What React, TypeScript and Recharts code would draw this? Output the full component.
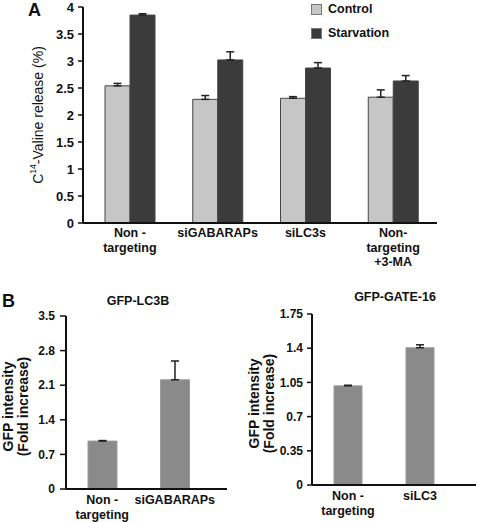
import { BarChart, Bar, XAxis, YAxis, ErrorBar, Legend, Label } from 'recharts';

// Panel A: C14-valine release
const categoriesA = ['Non -\ntargeting', 'siGABARAPs', 'siLC3s', 'Non-\ntargeting\n+3-MA'];
const controlValues = [2.54, 2.29, 2.31, 2.33];
const controlErrors = [0.045, 0.07, 0.03, 0.135];
const starvationValues = [3.85, 3.02, 2.87, 2.63];
const starvationErrors = [0.025, 0.15, 0.1, 0.1];
const ticksA = [0, 0.5, 1, 1.5, 2, 2.5, 3, 3.5, 4];

// Panel B left: GFP-LC3B
const categoriesLC3B = ['Non -\ntargeting', 'siGABARAPs'];
const lc3bValues = [0.97, 2.21];
const lc3bErrors = [0.01, 0.38];
const ticksLC3B = [0, 0.7, 1.4, 2.1, 2.8, 3.5];

// Panel B right: GFP-GATE-16
const categoriesGATE = ['Non -\ntargeting', 'siLC3'];
const gateValues = [1.015, 1.405];
const gateErrors = [0.006, 0.03];
const ticksGATE = [0, 0.35, 0.7, 1.05, 1.4, 1.75];

const FONT = '"Liberation Sans", Arial, Helvetica, sans-serif';
const INK = '#111';

const dataA = categoriesA.map((name, i) => ({
  name,
  control: controlValues[i],
  controlErr: [0, controlErrors[i]],
  starvation: starvationValues[i],
  starvationErr: [0, starvationErrors[i]],
}));

const dataLC3B = categoriesLC3B.map((name, i) => ({
  name,
  value: lc3bValues[i],
  err: [0, lc3bErrors[i]],
}));

const dataGATE = categoriesGATE.map((name, i) => ({
  name,
  value: gateValues[i],
  err: [0, gateErrors[i]],
}));

// multi-line category labels under the x axis
const makeTick = (firstLine: number) => (props: any) => {
  const { x, y, payload } = props;
  const lines = String(payload.value).split('\n');
  return (
    <text x={x} y={y} textAnchor="middle" fontFamily={FONT} fontSize={12.5} fontWeight="bold" fill={INK}>
      {lines.map((line, i) => (
        <tspan key={i} x={x} dy={i === 0 ? firstLine : 14.5} fill={INK}>
          {line}
        </tspan>
      ))}
    </text>
  );
};

const ValineLabel = (props: any) => {
  const { viewBox } = props;
  const cx = viewBox.x + viewBox.width - 45;
  const cy = viewBox.y + viewBox.height / 2;
  return (
    <text
      x={cx}
      y={cy}
      transform={`rotate(-90, ${cx}, ${cy})`}
      textAnchor="middle"
      dominantBaseline="central"
      fontFamily={FONT}
      fontSize={14}
      fill={INK}
      style={{ fill: INK }}
    >
      <tspan fill={INK}>C</tspan>
      <tspan dy={-5} fontSize={8.5} fill={INK}>14</tspan>
      <tspan dy={5} fill={INK}>-Valine release (%)</tspan>
    </text>
  );
};

const GfpLabel = (props: any) => {
  const { viewBox } = props;
  const right = viewBox.x + viewBox.width;
  const cy = viewBox.y + viewBox.height / 2 + 4;
  const lines = ['GFP intensity', '(Fold increase)'];
  const offsets = [58, 43];
  return (
    <g>
      {lines.map((line, i) => {
        const cx = right - offsets[i];
        return (
          <text
            key={line}
            x={cx}
            y={cy}
            transform={`rotate(-90, ${cx}, ${cy})`}
            textAnchor="middle"
            dominantBaseline="central"
            fontFamily={FONT}
            fontSize={14}
            fontWeight="bold"
            fill={INK}
            style={{ fill: INK }}
          >
            {line}
          </text>
        );
      })}
    </g>
  );
};

const LegendBox = (props: any) => {
  const { payload } = props;
  return (
    <div>
      {(payload || []).map((entry: any) => (
        <div key={entry.value} style={{ display: 'flex', alignItems: 'center', height: 11, marginBottom: 12.5 }}>
          <span
            style={{
              display: 'inline-block',
              width: 9,
              height: 9,
              background: entry.color,
              border: '1px solid #777',
              marginRight: 6,
            }}
          />
          <span style={{ fontFamily: FONT, fontSize: 12.5, fontWeight: 'bold', color: INK, lineHeight: '11px' }}>
            {entry.value}
          </span>
        </div>
      ))}
    </div>
  );
};

const axisLine = { stroke: INK, strokeWidth: 2 };
const tickLineStyle = { stroke: INK, strokeWidth: 1.5 };

const App = () => {
  return (
    <div style={{ position: 'absolute', left: 0, top: 0, width: 477, height: 522, background: '#fff', fontFamily: FONT }}>
      <div style={{ position: 'absolute', left: 0, top: 0 }}>
        <BarChart width={440} height={275} data={dataA} margin={{ top: 7, right: 3, bottom: 0, left: 0 }} barGap={0}>
          <XAxis
            dataKey="name"
            height={52}
            interval={0}
            tickLine={false}
            tickSize={0}
            tickMargin={0}
            axisLine={axisLine}
            padding={{ left: 3, right: 0 }}
            tick={makeTick(14)}
          />
          <YAxis
            width={83}
            domain={[0, 4]}
            ticks={ticksA}
            interval={0}
            axisLine={axisLine}
            tickLine={tickLineStyle}
            tickSize={5}
            tickMargin={4}
            tick={{ fontFamily: FONT, fontSize: 13, fontWeight: 'bold', fill: INK }}
          >
            <Label content={ValineLabel} />
          </YAxis>
          <Legend
            layout="vertical"
            align="center"
            verticalAlign="middle"
            content={LegendBox}
            wrapperStyle={{ left: 311, top: 4, width: 110 }}
          />
          <Bar dataKey="control" name="Control" fill="#c6c6c6" stroke="#444" strokeWidth={1} barSize={25} isAnimationActive={false}>
            <ErrorBar dataKey="controlErr" direction="y" width={4} stroke="#222" strokeWidth={1.5} isAnimationActive={false} />
          </Bar>
          <Bar dataKey="starvation" name="Starvation" fill="#3b3b3b" stroke="#444" strokeWidth={1} barSize={25} isAnimationActive={false}>
            <ErrorBar dataKey="starvationErr" direction="y" width={4} stroke="#222" strokeWidth={1.5} isAnimationActive={false} />
          </Bar>
        </BarChart>
      </div>

      <div style={{ position: 'absolute', left: 0, top: 290 }}>
        <BarChart width={240} height={232} data={dataLC3B} margin={{ top: 26, right: 13, bottom: 0, left: 0 }}>
          <XAxis
            dataKey="name"
            height={33}
            interval={0}
            tickLine={false}
            tickSize={0}
            tickMargin={0}
            axisLine={axisLine}
            padding={{ left: 0, right: 16 }}
            tick={makeTick(15)}
          />
          <YAxis
            width={66}
            domain={[0, 3.5]}
            ticks={ticksLC3B}
            interval={0}
            axisLine={axisLine}
            tickLine={tickLineStyle}
            tickSize={6}
            tickMargin={5}
            tick={{ fontFamily: FONT, fontSize: 12, fontWeight: 'bold', fill: INK }}
          >
            <Label content={GfpLabel} />
          </YAxis>
          <Bar dataKey="value" fill="#8a8a8a" stroke="#9c9c9c" strokeWidth={1} barSize={29} isAnimationActive={false}>
            <ErrorBar dataKey="err" direction="y" width={4} stroke="#222" strokeWidth={1.5} isAnimationActive={false} />
          </Bar>
        </BarChart>
      </div>

      <div style={{ position: 'absolute', left: 240, top: 290 }}>
        <BarChart width={237} height={232} data={dataGATE} margin={{ top: 24, right: 1, bottom: 0, left: 0 }}>
          <XAxis
            dataKey="name"
            height={37}
            interval={0}
            tickLine={false}
            tickSize={0}
            tickMargin={0}
            axisLine={axisLine}
            padding={{ left: 0, right: 20 }}
            tick={makeTick(15)}
          />
          <YAxis
            width={72}
            domain={[0, 1.75]}
            ticks={ticksGATE}
            interval={0}
            axisLine={axisLine}
            tickLine={tickLineStyle}
            tickSize={5}
            tickMargin={4}
            tick={{ fontFamily: FONT, fontSize: 12, fontWeight: 'bold', fill: INK }}
          >
            <Label content={GfpLabel} />
          </YAxis>
          <Bar dataKey="value" fill="#8a8a8a" stroke="#9c9c9c" strokeWidth={1} barSize={28} isAnimationActive={false}>
            <ErrorBar dataKey="err" direction="y" width={4} stroke="#222" strokeWidth={1.5} isAnimationActive={false} />
          </Bar>
        </BarChart>
      </div>

      {/* panel letters and titles */}
      <div style={{ position: 'absolute', left: 28, top: 1, fontSize: 18, lineHeight: '18px', fontWeight: 'bold', color: INK }}>A</div>
      <div style={{ position: 'absolute', left: 2, top: 292, fontSize: 18, lineHeight: '18px', fontWeight: 'bold', color: INK }}>B</div>
      <div
        style={{ position: 'absolute', left: 88, width: 100, top: 295, textAlign: 'center', fontSize: 12.5, lineHeight: '12.5px', fontWeight: 'bold', color: INK }}
      >
        GFP-LC3B
      </div>
      <div
        style={{ position: 'absolute', left: 335, width: 120, top: 291, textAlign: 'center', fontSize: 12.5, lineHeight: '12.5px', fontWeight: 'bold', color: INK }}
      >
        GFP-GATE-16
      </div>
    </div>
  );
};

export default App;
